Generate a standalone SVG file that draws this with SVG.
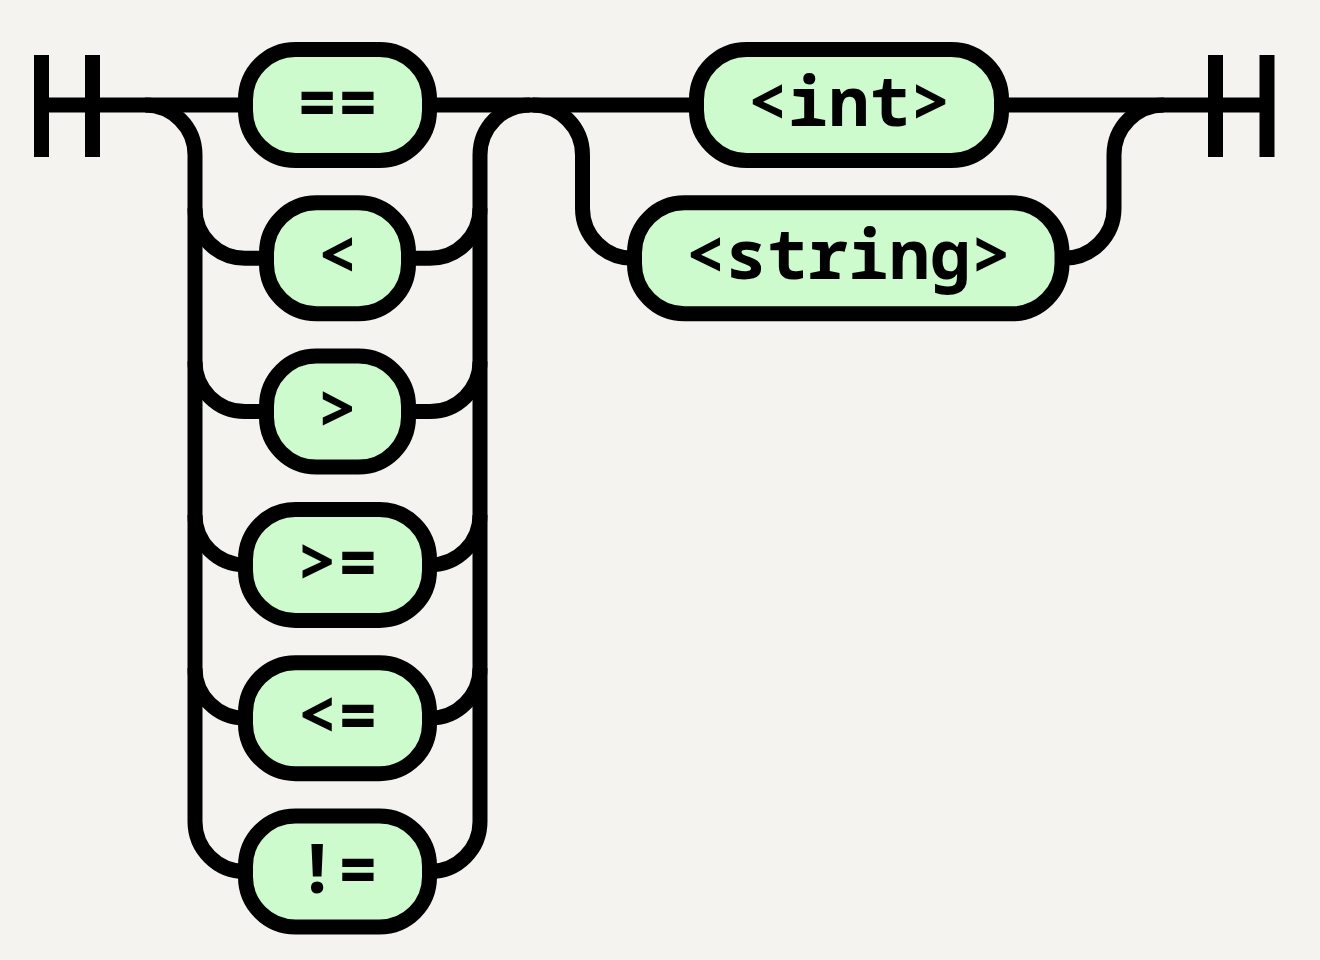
<svg xmlns="http://www.w3.org/2000/svg" width="1320" height="960" viewBox="0 0 1320 960">
  <style>
    .line { fill: none; stroke: #000; stroke-width: 15; stroke-linecap: butt; }
    .node rect { fill: #cdfbcd; stroke: #000; stroke-width: 15; }
    .node text { font-family: "Noto Sans Mono", "DejaVu Sans Mono", monospace; font-weight: bold; font-size: 68px; font-stretch: 96%; fill: #000; text-anchor: middle; }
  </style>
  <rect x="0" y="0" width="1320" height="960" fill="#f4f3f0"/>
  <g id="connectors" class="line">
    <path d="M41.5,55 V157 M92.5,55 V157"/>
    <path d="M41.5,105 H245.5"/>
    <path d="M145,105 A50,50 0 0 1 195,155 V821.5 A50,50 0 0 0 245,871.5 H245.5"/>
    <path d="M195,208.3 A50,50 0 0 0 245,258.3 H266.5"/>
    <path d="M195,361.6 A50,50 0 0 0 245,411.6 H266.5"/>
    <path d="M195,514.9 A50,50 0 0 0 245,564.9 H245.5"/>
    <path d="M195,668.2 A50,50 0 0 0 245,718.2 H245.5"/>
    <path d="M408.5,258.3 H430 A50,50 0 0 0 480,208.3"/>
    <path d="M408.5,411.6 H430 A50,50 0 0 0 480,361.6"/>
    <path d="M429.5,564.9 H430 A50,50 0 0 0 480,514.9"/>
    <path d="M429.5,718.2 H430 A50,50 0 0 0 480,668.2"/>
    <path d="M429.5,871.5 H430 A50,50 0 0 0 480,821.5 V155 A50,50 0 0 1 530,105"/>
    <path d="M429.5,105 H696.5"/>
    <path d="M532.5,105 A50,50 0 0 1 582.5,155 V208.3 A50,50 0 0 0 632.5,258.3 H634.5"/>
    <path d="M1062,258.3 H1064 A50,50 0 0 0 1114,208.3 V155 A50,50 0 0 1 1164,105"/>
    <path d="M1001.5,105 H1267"/>
    <path d="M1215.5,55 V157 M1267,55 V157"/>
  </g>
  <g id="node-eq" class="node">
    <rect x="245.5" y="49.5" width="184" height="111" rx="50"/>
    <text x="337.5" y="126">==</text>
  </g>
  <g id="node-lt" class="node">
    <rect x="266.5" y="202.8" width="142" height="111" rx="50"/>
    <text x="337.5" y="279.3">&lt;</text>
  </g>
  <g id="node-gt" class="node">
    <rect x="266.5" y="356.1" width="142" height="111" rx="50"/>
    <text x="337.5" y="432.6">&gt;</text>
  </g>
  <g id="node-ge" class="node">
    <rect x="245.5" y="509.4" width="184" height="111" rx="50"/>
    <text x="337.5" y="585.9">&gt;=</text>
  </g>
  <g id="node-le" class="node">
    <rect x="245.5" y="662.7" width="184" height="111" rx="50"/>
    <text x="337.5" y="739.2">&lt;=</text>
  </g>
  <g id="node-ne" class="node">
    <rect x="245.5" y="816" width="184" height="111" rx="50"/>
    <text x="337.5" y="892.5">!=</text>
  </g>
  <g id="node-int" class="node">
    <rect x="696.5" y="49.5" width="305" height="111" rx="50"/>
    <text x="849" y="126">&lt;int&gt;</text>
  </g>
  <g id="node-string" class="node">
    <rect x="634.5" y="202.8" width="427.5" height="111" rx="50"/>
    <text x="848.25" y="278.8">&lt;string&gt;</text>
  </g>
</svg>
